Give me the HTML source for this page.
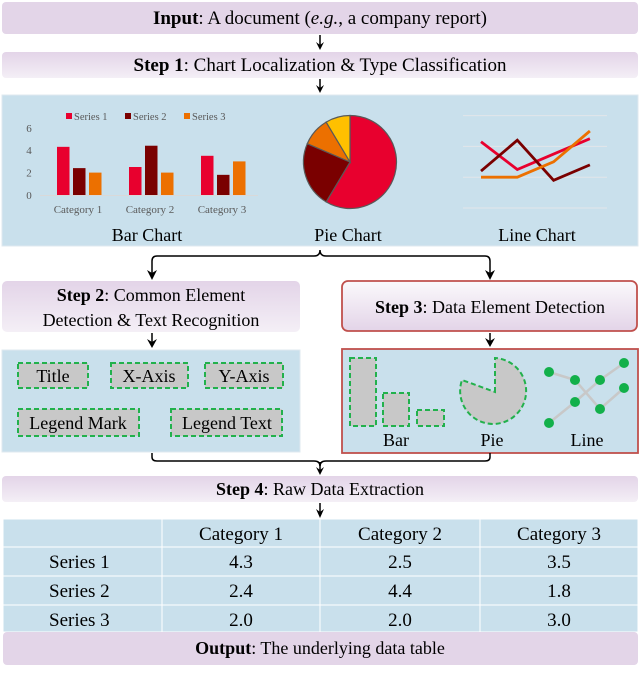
<!DOCTYPE html>
<html><head><meta charset="utf-8">
<style>
html,body{margin:0;padding:0;background:#fff;}
svg{display:block;font-family:"Liberation Serif",serif;}
</style></head>
<body>
<svg id="fig" width="640" height="696" viewBox="0 0 640 696" xmlns="http://www.w3.org/2000/svg">
<defs>
<linearGradient id="pg" x1="0" y1="0" x2="0" y2="1"><stop offset="0" stop-color="#e3d4e8"/><stop offset="1" stop-color="#f4eff6"/></linearGradient>
<linearGradient id="pg3" x1="0" y1="0" x2="0" y2="1"><stop offset="0" stop-color="#fbf9fc"/><stop offset="1" stop-color="#e3d4e8"/></linearGradient>
</defs>

<!-- Input -->
<rect x="2" y="2" width="636" height="32" rx="4" fill="#e3d5e8"/>
<text x="320" y="24" font-size="19" text-anchor="middle"><tspan font-weight="bold">Input</tspan>: A document (<tspan font-style="italic">e.g.</tspan>, a company report)</text>
<g><line x1="320" y1="35" x2="320" y2="47" stroke="#000" stroke-width="1.5"/><path d="M316,42 L320,50 L324,42 L320,45 Z" fill="#000"/></g>

<!-- Step 1 -->
<rect x="2" y="52" width="636" height="26" rx="4" fill="url(#pg)"/>
<text x="320" y="71" font-size="19" text-anchor="middle"><tspan font-weight="bold">Step 1</tspan>: Chart  Localization &amp; Type Classification</text>
<g><line x1="320" y1="79" x2="320" y2="90" stroke="#000" stroke-width="1.5"/><path d="M316,85 L320,93 L324,85 L320,88 Z" fill="#000"/></g>

<!-- Charts panel -->
<rect x="2" y="95" width="636" height="151" fill="#c9e0ec" stroke="#dfe9ef"/>
<g id="bar-chart"></g>
<g id="pie-chart"></g>
<g id="line-chart"></g>
<text x="147" y="241" font-size="18" text-anchor="middle">Bar Chart</text>
<text x="348" y="241" font-size="18" text-anchor="middle">Pie Chart</text>
<text x="537" y="241" font-size="18" text-anchor="middle">Line Chart</text>

<!-- brace arrows -->
<path d="M152,276 L152,261 Q152,256 157,256 L314,256 Q320,256 320,250 Q320,256 326,256 L485,256 Q490,256 490,261 L490,276" fill="none" stroke="#000" stroke-width="1.5"/>
<path d="M147,270 L152,280 L157,270 L152,273 Z" fill="#000"/>
<path d="M485,270 L490,280 L495,270 L490,273 Z" fill="#000"/>

<!-- Step 2 -->
<rect x="2" y="281" width="298" height="51" rx="5" fill="url(#pg)"/>
<text x="151" y="301" font-size="18" text-anchor="middle"><tspan font-weight="bold">Step 2</tspan>: Common Element</text>
<text x="151" y="326" font-size="18" text-anchor="middle">Detection &amp; Text Recognition</text>
<!-- Step 3 -->
<rect x="342" y="281" width="295" height="50" rx="6" fill="url(#pg3)" stroke="#c0504d" stroke-width="1.8"/>
<text x="490" y="313" font-size="18" text-anchor="middle"><tspan font-weight="bold">Step 3</tspan>: Data Element Detection</text>
<g><line x1="152" y1="333" x2="152" y2="344" stroke="#000" stroke-width="1.5"/><path d="M147,339 L152,348 L157,339 L152,342 Z" fill="#000"/></g>
<g><line x1="490" y1="333" x2="490" y2="343" stroke="#000" stroke-width="1.5"/><path d="M485,338 L490,347 L495,338 L490,341 Z" fill="#000"/></g>

<!-- Step 2 panel -->
<rect x="2" y="350" width="298" height="102" fill="#c9e0ec" stroke="#dfe9ef"/>
<g stroke="#22b14c" stroke-width="2" stroke-dasharray="5,3" fill="#c8c8c8">
<rect x="18" y="363" width="70" height="25"/>
<rect x="111" y="363" width="77" height="25"/>
<rect x="205" y="363" width="78" height="25"/>
<rect x="18" y="409" width="121" height="27"/>
<rect x="171" y="409" width="111" height="27"/>
</g>
<g font-size="18" text-anchor="middle">
<text x="53" y="382">Title</text>
<text x="149" y="382">X-Axis</text>
<text x="244" y="382">Y-Axis</text>
<text x="78" y="429">Legend Mark</text>
<text x="227" y="429">Legend Text</text>
</g>

<!-- Step 3 panel -->
<rect x="342" y="349" width="296" height="104" fill="#c9e0ec" stroke="#c0504d" stroke-width="1.8"/>
<g stroke="#22b14c" stroke-width="2" stroke-dasharray="5,3" fill="#c8c8c8">
<rect x="350" y="358" width="26" height="68"/>
<rect x="383" y="393" width="26" height="33"/>
<rect x="417" y="410" width="27" height="16"/>
<path d="M495,392 L495,358 A33,33 0 1 1 462,380 Z"/>
</g>
<g stroke="#c8c8c8" stroke-width="2.5" fill="none">
<polyline points="549,372 575,380 600,409 624,388"/>
<polyline points="549,423 575,402 600,380 624,363"/>
</g>
<g fill="#12b04a">
<circle cx="549" cy="372" r="5"/>
<circle cx="575" cy="380" r="5"/>
<circle cx="600" cy="409" r="5"/>
<circle cx="624" cy="388" r="5"/>
<circle cx="549" cy="423" r="5"/>
<circle cx="575" cy="402" r="5"/>
<circle cx="600" cy="380" r="5"/>
<circle cx="624" cy="363" r="5"/>
</g>
<g font-size="18" text-anchor="middle">
<text x="396" y="446">Bar</text>
<text x="492" y="446">Pie</text>
<text x="587" y="446">Line</text>
</g>

<!-- merge brace -->
<path d="M152,453 L152,457 Q152,461 157,461 L314,461 Q320,461 320,466 Q320,461 326,461 L485,461 Q490,461 490,457 L490,453" fill="none" stroke="#000" stroke-width="1.5"/>
<g><line x1="320" y1="462" x2="320" y2="471" stroke="#000" stroke-width="1.5"/><path d="M316,467 L320,475 L324,467 L320,470 Z" fill="#000"/></g>

<!-- Step 4 -->
<rect x="2" y="476" width="636" height="26" rx="4" fill="url(#pg)"/>
<text x="320" y="495" font-size="18" text-anchor="middle"><tspan font-weight="bold">Step 4</tspan>: Raw Data Extraction</text>
<g><line x1="320" y1="503" x2="320" y2="513" stroke="#000" stroke-width="1.5"/><path d="M316,509 L320,518 L324,509 L320,512 Z" fill="#000"/></g>

<g id="table"></g>

<!-- Output -->
<rect x="3" y="632" width="635" height="33" rx="4" fill="#e3d5e8"/>
<text x="320" y="654" font-size="18" text-anchor="middle"><tspan font-weight="bold">Output</tspan>: The underlying data table</text>
</svg>

<script>
const categories = ["Category 1", "Category 2", "Category 3"];
const seriesNames = ["Series 1", "Series 2", "Series 3"];
const series1 = [4.3, 2.5, 3.5];
const series2 = [2.4, 4.4, 1.8];
const series3 = [2.0, 2.0, 3.0];
const barTicks = [0, 2, 4, 6];
const pieValues = [8.2, 3.2, 1.4, 1.2];
const lineSeries1 = [4.3, 2.5, 3.5, 4.5];
const lineSeries2 = [2.4, 4.4, 1.8, 2.8];
const lineSeries3 = [2.0, 2.0, 3.0, 5.0];
const lineTicks = [0, 2, 4, 6];

const NS = "http://www.w3.org/2000/svg";
const colors = ["#e8002e", "#7a0000", "#ec7000"];
function mk(parent, tag, attrs, text) {
  const e = document.createElementNS(NS, tag);
  for (const k in attrs) e.setAttribute(k, attrs[k]);
  if (text !== undefined) e.textContent = text;
  parent.appendChild(e);
  return e;
}
// Bar chart
const bar = document.getElementById("bar-chart");
const by = v => 195 - v * 11.2;
const groupX = i => 57 + i * 72;
barTicks.forEach(t => {
  const e = mk(bar, "text", {x: 29, y: by(t) + 4, "font-size": 11, fill: "#595959", "text-anchor": "middle"}, String(t));
  
  
});
const ax = mk(bar, "line", {x1: 40, x2: 258, y1: 195.5, y2: 195.5, stroke: "#d9d9d9"});


[series1, series2, series3].forEach((s, si) => {
  s.forEach((v, ci) => {
    const r = mk(bar, "rect", {x: groupX(ci) + si * 16, y: by(v), width: 12.5, height: 195 - by(v), fill: colors[si]});
    
    
  });
});
categories.forEach((c, ci) => {
  const e = mk(bar, "text", {x: groupX(ci) + 21, y: 213, "font-size": 11, fill: "#595959", "text-anchor": "middle"}, c);
  
  
});
seriesNames.forEach((n, i) => {
  const lx = 66 + i * 59;
  const sq = mk(bar, "rect", {x: lx, y: 113, width: 6, height: 6, fill: colors[i]});
  
  
  const t = mk(bar, "text", {x: lx + 8, y: 120, "font-size": 10.5, fill: "#595959"}, n);
  
  
});
// Pie chart
const pie = document.getElementById("pie-chart");
const pieColors = ["#e8002e", "#7a0000", "#ec7000", "#ffc000"];
const cx = 350, cy = 162, R = 46.5;
const total = pieValues.reduce((a, b) => a + b, 0);
let ang = 0;
pieValues.forEach((v, i) => {
  const a0 = ang, a1 = ang + v / total * 2 * Math.PI;
  ang = a1;
  const p0 = [cx + R * Math.sin(a0), cy - R * Math.cos(a0)];
  const p1 = [cx + R * Math.sin(a1), cy - R * Math.cos(a1)];
  const large = (a1 - a0) > Math.PI ? 1 : 0;
  const p = mk(pie, "path", {d: `M${cx},${cy} L${p0[0]},${p0[1]} A${R},${R} 0 ${large} 1 ${p1[0]},${p1[1]} Z`, fill: pieColors[i], stroke: "#595959", "stroke-width": 1.2});
  
  
});
// Line chart
const line = document.getElementById("line-chart");
const ly = v => 208 - v * 15.4;
const lx = i => 481 + i * 36.3;
lineTicks.forEach(t => {
  const g = mk(line, "line", {x1: 463, x2: 607, y1: ly(t), y2: ly(t), stroke: "#e2e6ea", "stroke-width": 1});
  
  
});
[lineSeries1, lineSeries2, lineSeries3].forEach((s, si) => {
  const pl = mk(line, "polyline", {points: s.map((v, i) => lx(i) + "," + ly(v)).join(" "), fill: "none", stroke: colors[si], "stroke-width": 2.8});
  
  
});
// Table
const tbl = document.getElementById("table");
const colX = [3, 162, 320, 480, 638];
const rowY = [519, 547, 576, 605, 632];
for (let r = 0; r < 4; r++) for (let c = 0; c < 4; c++) {
  const cell = mk(tbl, "rect", {x: colX[c] + 0.5, y: rowY[r] + 0.5, width: colX[c + 1] - colX[c] - 1, height: rowY[r + 1] - rowY[r] - 1, fill: "#c9e0ec"});
  
  
}
categories.forEach((c, ci) => {
  const t = mk(tbl, "text", {x: (colX[ci + 1] + colX[ci + 2]) / 2, y: rowY[0] + 21, "font-size": 19, "text-anchor": "middle"}, c);
  
  
});
[series1, series2, series3].forEach((s, si) => {
  const t = mk(tbl, "text", {x: 49, y: rowY[si + 1] + 21, "font-size": 19}, seriesNames[si]);
  
  
  s.forEach((v, ci) => {
    const vt = mk(tbl, "text", {x: (colX[ci + 1] + colX[ci + 2]) / 2, y: rowY[si + 1] + 21, "font-size": 19, "text-anchor": "middle"}, v.toFixed(1));
    
    
  });
});
</script>
</body></html>
